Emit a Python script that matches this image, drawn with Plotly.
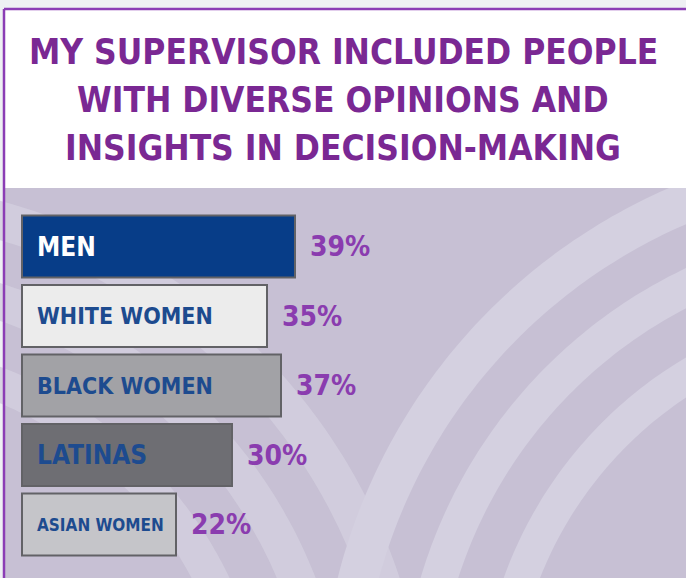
import numpy as np
import plotly.graph_objects as go

# ---- data ----
categories = ["MEN", "WHITE WOMEN", "BLACK WOMEN", "LATINAS", "ASIAN WOMEN"]
values = [39, 35, 37, 30, 22]
value_labels = ["39%", "35%", "37%", "30%", "22%"]
title_lines = ["MY SUPERVISOR INCLUDED PEOPLE",
               "WITH DIVERSE OPINIONS AND",
               "INSIGHTS IN DECISION-MAKING"]

# ---- styles ----
bar_colors = ["#073d88", "#ececec", "#a2a2a6", "#6e6e73", "#c5c5c9"]
label_colors = ["#ffffff", "#1d4b8f", "#1d4b8f", "#1d4b8f", "#1d4b8f"]
label_sizes = [26, 23, 23, 26, 17]
W, H = 686, 578
FONT = "DejaVu Sans Condensed, Liberation Sans Narrow, sans-serif"
TITLE_C = "#7a2893"
PCT_C = "#8a3caf"

def px(x, y):
    return x / W, 1 - y / H

fig = go.Figure()
fig.add_trace(go.Bar(
    y=categories, x=values, orientation="h",
    marker=dict(color=bar_colors, line=dict(color="#626266", width=2)),
    width=0.89, hoverinfo="skip",
))

shapes = []
def rect(x0, y0, x1, y1, color):
    a = px(x0, y0); b = px(x1, y1)
    shapes.append(dict(type="rect", xref="paper", yref="paper", x0=a[0], y0=b[1], x1=b[0], y1=a[1],
                       fillcolor=color, line=dict(width=0), layer="below"))

rect(4, 9, W + 2, H + 2, "#c7c0d4")

def arc_path(cx, cy, r, n=240):
    ts = np.linspace(0, np.pi, n)
    pts = []
    for t in ts:
        x = cx + r * np.cos(t); y = cy - r * np.sin(t)
        if -60 <= x <= W + 60 and 150 <= y <= H + 60:
            pts.append(px(x, y))
    return "M " + " L ".join(f"{a:.4f},{b:.4f}" for a, b in pts)

# decorative background arcs (logo watermark)
for r, w in [(560, 38), (482, 36), (404, 34)]:
    shapes.append(dict(type="path", xref="paper", yref="paper", path=arc_path(-150, 760, r),
                       line=dict(color="#d3cfdf", width=w), layer="below", opacity=0.85))
for r, w in [(560, 40), (482, 36), (404, 34)]:
    shapes.append(dict(type="path", xref="paper", yref="paper", path=arc_path(900, 720, r),
                       line=dict(color="#d4d0e0", width=w), layer="below"))

rect(4, 9, W + 2, 188, "#ffffff")

# border
a = px(4, 9)
shapes.append(dict(type="line", xref="paper", yref="paper", x0=a[0], y0=a[1], x1=a[0], y1=-0.01,
                   line=dict(color="#8b3db5", width=2.5), layer="below"))
shapes.append(dict(type="line", xref="paper", yref="paper", x0=a[0], y0=a[1], x1=1.01, y1=a[1],
                   line=dict(color="#8b3db5", width=2.5), layer="below"))

annotations = []
for i, line in enumerate(title_lines):
    yy = [52, 100, 148][i]
    annotations.append(dict(text=line, x=0.5, y=px(0, yy)[1], xref="paper", yref="paper",
                            xanchor="center", yanchor="middle", showarrow=False,
                            font=dict(family=FONT, size=35, color=TITLE_C, weight="bold")))

for c, v, lab, col, sz in zip(categories, values, value_labels, label_colors, label_sizes):
    annotations.append(dict(text=c, x=0, y=c, xref="x", yref="y", xanchor="left", yanchor="middle",
                            xshift=13, showarrow=False,
                            font=dict(family=FONT, size=sz, color=col, weight="bold")))
    annotations.append(dict(text=lab, x=v, y=c, xref="x", yref="y", xanchor="left", yanchor="middle",
                            xshift=13, showarrow=False,
                            font=dict(family=FONT, size=28, color=PCT_C, weight="bold")))

fig.update_layout(
    width=W, height=H, margin=dict(l=0, r=0, t=0, b=0),
    paper_bgcolor="#eef0f3", plot_bgcolor="rgba(0,0,0,0)",
    showlegend=False, shapes=shapes, annotations=annotations,
    xaxis=dict(range=[-22 / 7, (W - 22) / 7], visible=False, fixedrange=True),
    yaxis=dict(range=[(H - 246.5) / 69.5, -246.5 / 69.5], visible=False, fixedrange=True,
               categoryorder="array", categoryarray=categories),
)
fig.write_html("out.html")
